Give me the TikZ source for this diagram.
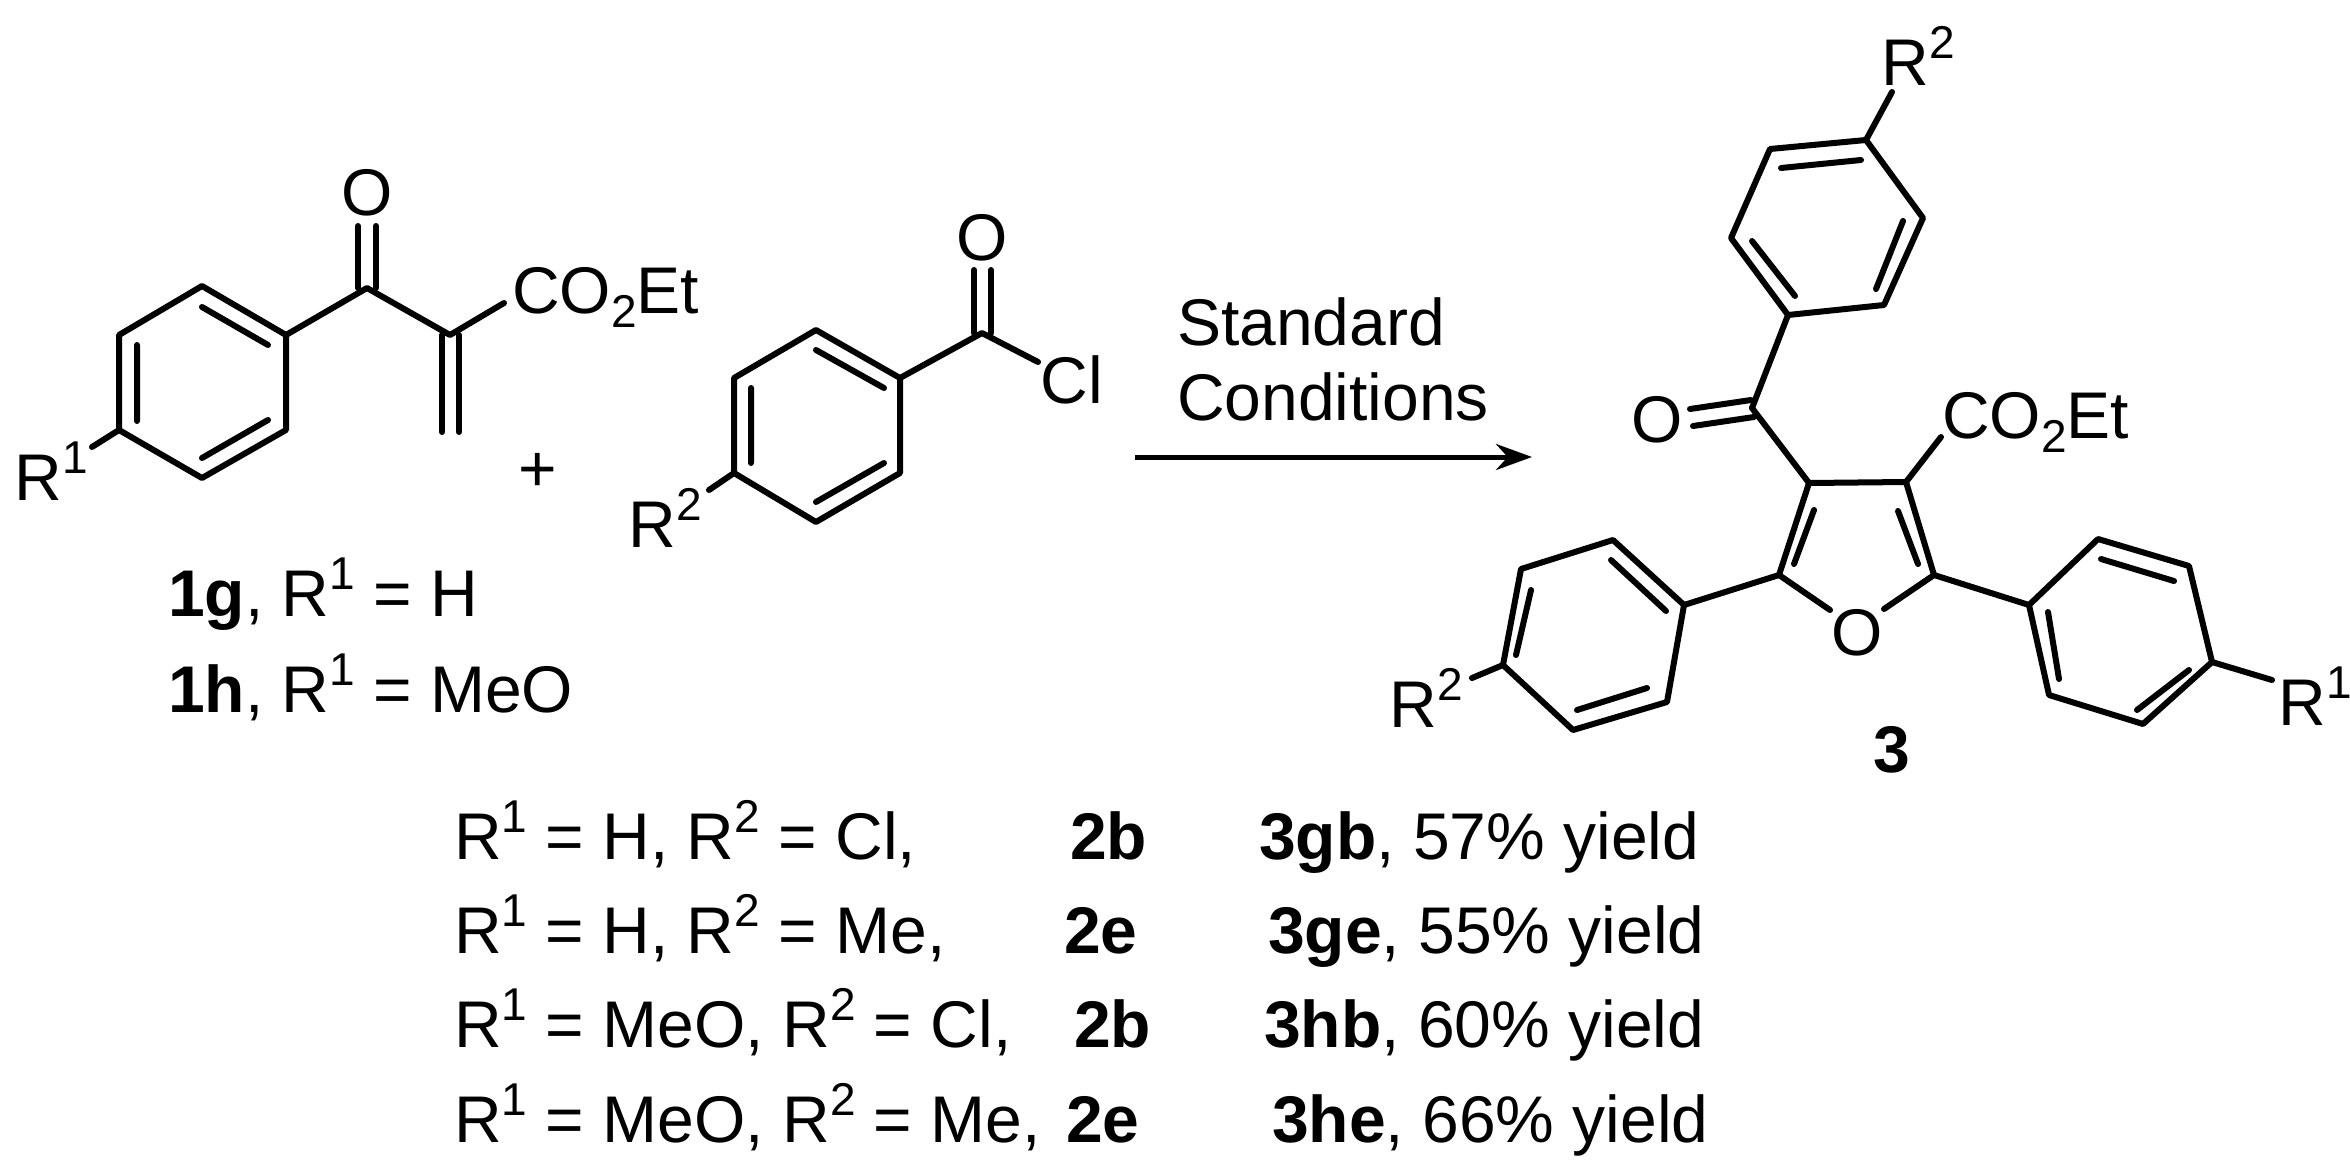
\documentclass[tikz,border=0pt]{standalone}
\usepackage{fontspec}
\setmainfont{Liberation Sans}
\usetikzlibrary{arrows.meta}
\newcommand\myS[1]{\raisebox{0.40em}{\fontsize{46}{46}\selectfont #1}}
\newcommand\myB[1]{\raisebox{-0.22em}{\fontsize{46}{46}\selectfont #1}}
\tikzset{bond/.style={line width=6pt,line cap=round,line join=round},
 lbl/.style={inner sep=0pt,font=\fontsize{66}{79}\selectfont},
 lblb/.style={lbl,anchor=base west}}
\begin{document}
\begin{tikzpicture}[x=1pt,y=-1pt]
\useasboundingbox[fill=white] (0,0) rectangle (2350,1170);
% ---------- molecule 1
\coordinate (a1) at (202,286); \coordinate (a2) at (286,335); \coordinate (a3) at (286,430);
\coordinate (a4) at (202,478); \coordinate (a5) at (119,430); \coordinate (a6) at (119,335);
\draw[bond] (a1)--(a2)--(a3)--(a4)--(a5)--(a6)--cycle;
\draw[bond] (202,307)--(268,345) (137,345)--(137,421) (202,458)--(268,420);
\coordinate (k1) at (367,288); \coordinate (e1) at (450,335);
\draw[bond] (a2)--(k1)--(e1)--(504,303);
\draw[bond] (358,288)--(358,226) (376,288)--(376,226);
\draw[bond] (442,335)--(442,432) (459,335)--(459,432);
\node[lbl] (o1) at (367,193) {O};
\node[lblb] (est1) at (512,313) {CO\myB{2}Et};
\draw[bond] (a5)--(92,447);
\node[lbl,anchor=base east] (r1a) at (62,500) {R};
\node[lbl,anchor=base west] (r1b) at (62,500) {\myS{1}};
\node[lbl] (plus) at (538,472) {+};
\node[lblb] (c1g) at (168,616) {\textbf{1g}, R\myS{1} = H};
\node[lblb] (c1h) at (168,712) {\textbf{1h}, R\myS{1} = MeO};
% ---------- molecule 2
\coordinate (b1) at (816,330); \coordinate (b2) at (900,378); \coordinate (b3) at (900,473);
\coordinate (b4) at (816,522); \coordinate (b5) at (734,473); \coordinate (b6) at (734,378);
\draw[bond] (b1)--(b2)--(b3)--(b4)--(b5)--(b6)--cycle;
\draw[bond] (816,350)--(884,388) (751,388)--(751,463) (816,502)--(884,463);
\coordinate (k2) at (982,333);
\draw[bond] (b2)--(k2)--(1038,362);
\draw[bond] (974,333)--(974,270) (991,333)--(991,270);
\node[lbl] (o2) at (982,238) {O};
\node[lbl] (cl) at (1072,380) {Cl};
\draw[bond] (b5)--(709,490);
\node[lbl,anchor=base east] (r2a) at (676,547) {R};
\node[lbl,anchor=base west] (r2b) at (676,547) {\myS{2}};
% ---------- arrow
\coordinate (arS) at (1135,457); \coordinate (arE) at (1532,457);
\draw[line width=5pt,-{Stealth[length=36pt,width=26pt]}] (arS)--(arE);
\node[lblb] (std) at (1177,345) {Standard};
\node[lblb] (cond) at (1177,420) {Conditions};
% ---------- product
\coordinate (f2) at (1779,575); \coordinate (f3) at (1809,483); \coordinate (f4) at (1906,482);
\coordinate (f5) at (1934,575);
\node[lbl] (fo) at (1857,633) {O};
\draw[bond] (1830,610)--(f2)--(f3)--(f4)--(f5)--(1884,609);
\draw[bond] (1814,510)--(1794,564) (1898,511)--(1918,564);
% ketone
\coordinate (k3) at (1752,408);
\draw[bond] (f3)--(k3);
\draw[bond] (1751,400)--(1690,409) (1754,417)--(1693,426);
\node[lbl] (o3) at (1657,420) {O};
% top ring
\coordinate (t1) at (1788,315); \coordinate (t2) at (1884,305); \coordinate (t3) at (1923,218);
\coordinate (t4) at (1866,140); \coordinate (t5) at (1770,149); \coordinate (t6) at (1731,238);
\draw[bond] (t1)--(t2)--(t3)--(t4)--(t5)--(t6)--cycle;
\draw[bond] (1781,168)--(1861,160) (1903,221)--(1876,289) (1752,241)--(1795,296);
\draw[bond] (k3)--(t1);
\draw[bond] (t4)--(1892,92);
\node[lbl,anchor=base east] (r2c) at (1929,85) {R};
\node[lbl,anchor=base west] (r2d) at (1929,85) {\myS{2}};
% ester
\draw[bond] (f4)--(1941,437);
\node[lblb] (est2) at (1942,438) {CO\myB{2}Et};
% left ring
\coordinate (l1) at (1684,605); \coordinate (l2) at (1613,540); \coordinate (l3) at (1521,569);
\coordinate (l4) at (1503,665); \coordinate (l5) at (1573,730); \coordinate (l6) at (1667,702);
\draw[bond] (l1)--(l2)--(l3)--(l4)--(l5)--(l6)--cycle;
\draw[bond] (1611,560)--(1666,611) (1531,590)--(1516,655) (1577,710)--(1647,688);
\draw[bond] (f2)--(l1);
\draw[bond] (l4)--(1472,678);
\node[lbl,anchor=base east] (r2e) at (1437,727) {R};
\node[lbl,anchor=base west] (r2f) at (1437,727) {\myS{2}};
% right ring
\coordinate (q1) at (2029,605); \coordinate (q2) at (2098,539); \coordinate (q3) at (2189,566);
\coordinate (q4) at (2212,662); \coordinate (q5) at (2143,724); \coordinate (q6) at (2049,695);
\draw[bond] (q1)--(q2)--(q3)--(q4)--(q5)--(q6)--cycle;
\draw[bond] (2101,559)--(2174,581) (2189,670)--(2137,710) (2048,612)--(2059,679);
\draw[bond] (f5)--(q1);
\draw[bond] (q4)--(2272,680);
\node[lbl,anchor=base east] (r1c) at (2326,725) {R};
\node[lbl,anchor=base west] (r1d) at (2326,725) {\myS{1}};
\node[lbl,font=\fontsize{66}{79}\selectfont\bfseries] (p3) at (1892,750) {3};
% ---------- table
\foreach \yy/\ta/\xb/\tb/\xc/\tc in {
 859/{R\myS{1} = H, R\myS{2} = Cl,}/1070/2b/1259/{\textbf{3gb}, 57\% yield},
 953/{R\myS{1} = H, R\myS{2} = Me,}/1064/2e/1268/{\textbf{3ge}, 55\% yield},
 1047/{R\myS{1} = MeO, R\myS{2} = Cl,}/1074/2b/1264/{\textbf{3hb}, 60\% yield},
 1142/{R\myS{1} = MeO, R\myS{2} = Me,}/1066/2e/1272/{\textbf{3he}, 66\% yield}}{
 \node[lblb] (ta\yy) at (454,\yy) {\ta};
 \node[lblb] (tb\yy) at (\xb,\yy) {\textbf{\tb}};
 \node[lblb] (tc\yy) at (\xc,\yy) {\tc};
}
\end{tikzpicture}
\end{document}
